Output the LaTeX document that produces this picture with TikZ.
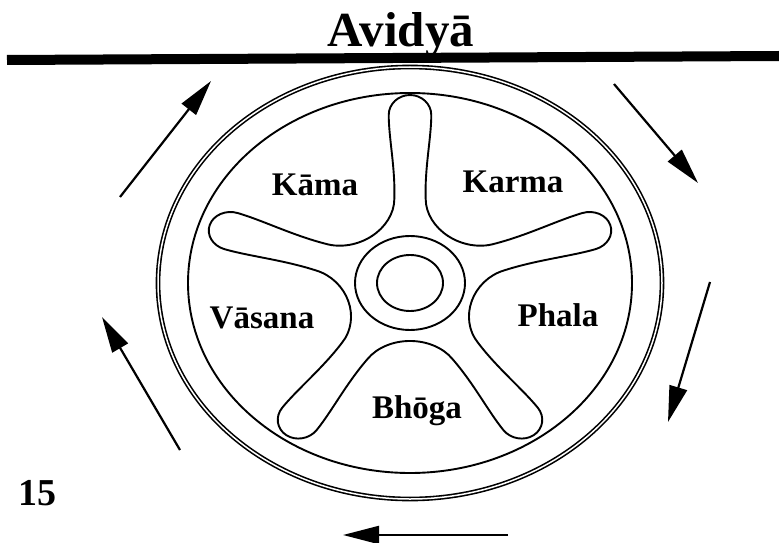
\documentclass[tikz,border=0pt]{standalone}
\usepackage{fontspec}
\setmainfont{Liberation Serif}
\usetikzlibrary{arrows.meta}

\begin{document}
\begin{tikzpicture}[x=1pt,y=1pt,
  wheel/.style={line width=1.9pt},
  turn/.style={line width=2.2pt,-{Triangle[length=36pt,width=18pt]}},
  word/.style={anchor=base,font=\fontsize{33}{33}\selectfont\bfseries}]
  \useasboundingbox (0,0) rectangle (779,542);
  \node[anchor=base,font=\fontsize{49}{49}\selectfont\bfseries] (title) at (401,495) {Avidyā};
  \draw[line width=10pt] (7,482) -- (779,486);
  \coordinate (c) at (410,259);
  % tyre, rim and hub
  \draw[line width=1.6pt,double,double distance=1.5pt] (c) ellipse [x radius=252,y radius=216];
  \draw[wheel] (c) ellipse [x radius=222,y radius=190];
  \draw[wheel] (c) ellipse [x radius=55,y radius=47];
  \draw[wheel] (c) ellipse [x radius=33,y radius=28];
  % spokes
  \foreach \a in {90,162,234,306,378}
    \draw[wheel,line cap=round,shift={(c)},xscale=1.12,rotate=\a]
      (46.9,-34.1) .. controls (55.5,-22.2) and (69.4,-14) .. (84,-14)
      .. controls (115,-13) and (145,-19) .. (168,-19)
      .. controls (179,-19) and (188,-10.5) .. (188,0)
      .. controls (188,10.5) and (179,19) .. (168,19)
      .. controls (145,19) and (115,13) .. (84,14)
      .. controls (69.4,14) and (55.5,22.2) .. (46.9,34.1);
  \node[word] (kama) at (315,347) {Kāma};
  \node[word] (karma) at (513,349) {Karma};
  \node[word] (vasana) at (262,214) {Vāsana};
  \node[word] (phala) at (558,216) {Phala};
  \node[word] (bhoga) at (417,124) {Bhōga};
  \node[anchor=base west,font=\fontsize{38}{38}\selectfont\bfseries] (num) at (15,37) {15};
  % turning arrows
  \coordinate (ul-a) at (120,345); \coordinate (ul-b) at (211,461);
  \coordinate (ur-a) at (614,458); \coordinate (ur-b) at (698,359);
  \coordinate (lr-a) at (710,260); \coordinate (lr-b) at (668,120);
  \coordinate (bo-a) at (508,7);   \coordinate (bo-b) at (343,7);
  \coordinate (ll-a) at (180,92);  \coordinate (ll-b) at (102,225);
  \draw[turn] (ul-a) -- (ul-b);
  \draw[turn] (ur-a) -- (ur-b);
  \draw[turn] (lr-a) -- (lr-b);
  \draw[turn] (bo-a) -- (bo-b);
  \draw[turn] (ll-a) -- (ll-b);
\end{tikzpicture}
\end{document}
